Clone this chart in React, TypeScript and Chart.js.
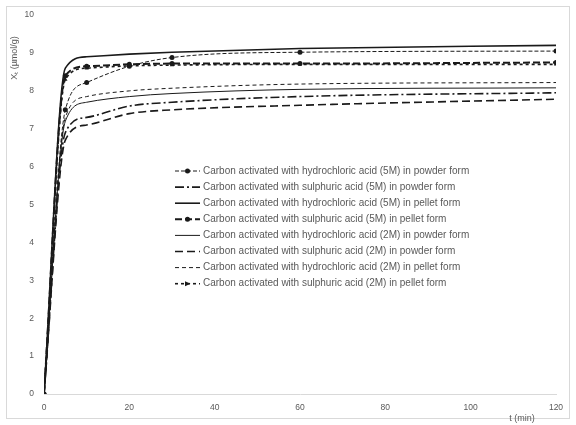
import React, { useEffect, useRef } from "react";
import { Chart, registerables } from "chart.js";

Chart.register(...registerables);

const times = [0, 5, 10, 20, 30, 60, 120];
const labels = [
  "Carbon activated with hydrochloric acid (5M) in powder form",
  "Carbon activated with sulphuric acid (5M) in powder form",
  "Carbon activated with hydrochloric acid (5M) in pellet form",
  "Carbon activated with sulphuric acid (5M) in pellet form",
  "Carbon activated with hydrochloric acid (2M) in powder form",
  "Carbon activated with sulphuric acid (2M) in powder form",
  "Carbon activated with hydrochloric acid (2M) in pellet form",
  "Carbon activated with sulphuric acid (2M) in pellet form",
];
const hcl5Powder = [0, 7.5, 8.22, 8.65, 8.88, 9.02, 9.05];
const h2so45Powder = [0, 6.9, 7.3, 7.6, 7.7, 7.85, 7.95];
const hcl5Pellet = [0, 8.6, 8.9, 8.97, 9.02, 9.12, 9.2];
const h2so45Pellet = [0, 8.4, 8.65, 8.7, 8.72, 8.72, 8.75];
const hcl2Powder = [0, 7.2, 7.7, 7.85, 7.93, 8.04, 8.08];
const h2so42Powder = [0, 6.7, 7.1, 7.4, 7.5, 7.62, 7.78];
const hcl2Pellet = [0, 7.3, 7.85, 8.0, 8.07, 8.18, 8.22];
const h2so42Pellet = [0, 8.3, 8.6, 8.66, 8.68, 8.7, 8.7];
const xTicks = [0, 20, 40, 60, 80, 100, 120];
const yTicks = [0, 1, 2, 3, 4, 5, 6, 7, 8, 9, 10];

const seriesValues = [
  hcl5Powder,
  h2so45Powder,
  hcl5Pellet,
  h2so45Pellet,
  hcl2Powder,
  h2so42Powder,
  hcl2Pellet,
  h2so42Pellet,
];

const styles = [
  { dash: [4, 2], width: 1, point: "circle", r: 2.5 },
  { dash: [9, 3, 2, 3], width: 1.6, point: "circle", r: 0 },
  { dash: [], width: 1.6, point: "circle", r: 0 },
  { dash: [7, 3], width: 2, point: "circle", r: 2.5 },
  { dash: [], width: 1, point: "circle", r: 0 },
  { dash: [8, 4], width: 1.6, point: "circle", r: 0 },
  { dash: [4, 3], width: 1, point: "circle", r: 0 },
  { dash: [3, 3], width: 1.6, point: "triangle", r: 2.5 },
];

const FONT = "'Liberation Sans', Arial, sans-serif";
const GRAY = "#595959";
const LINE = "#1a1a1a";

const overlayPlugin = {
  id: "overlay",
  afterDraw(chart: any) {
    const ctx = chart.ctx;
    ctx.save();
    // outer frame
    ctx.strokeStyle = "#d9d9d9";
    ctx.lineWidth = 1;
    ctx.setLineDash([]);
    ctx.strokeRect(6.5, 6.5, 563, 412);

    // legend
    const x0 = 175;
    const x1 = 200;
    const tx = 203;
    const y0 = 171;
    const dy = 16.1;
    ctx.font = `10px ${FONT}`;
    ctx.textBaseline = "middle";
    ctx.textAlign = "left";
    chart.data.datasets.forEach((ds: any, i: number) => {
      const y = y0 + dy * i;
      ctx.strokeStyle = LINE;
      ctx.lineWidth = ds.borderWidth;
      ctx.setLineDash(ds.borderDash || []);
      ctx.beginPath();
      ctx.moveTo(x0, y);
      ctx.lineTo(x1, y);
      ctx.stroke();
      ctx.setLineDash([]);
      if (ds.pointRadius > 0) {
        ctx.fillStyle = LINE;
        const cx = (x0 + x1) / 2;
        if (ds.pointStyle === "triangle") {
          ctx.beginPath();
          ctx.moveTo(cx - 2.5, y - 2.5);
          ctx.lineTo(cx + 3, y);
          ctx.lineTo(cx - 2.5, y + 2.5);
          ctx.closePath();
          ctx.fill();
        } else {
          ctx.beginPath();
          ctx.arc(cx, y, 2.5, 0, Math.PI * 2);
          ctx.fill();
        }
      }
      ctx.fillStyle = GRAY;
      ctx.fillText(ds.label, tx, y);
    });

    // axis titles
    ctx.fillStyle = GRAY;
    ctx.font = `9px ${FONT}`;
    ctx.textAlign = "center";
    ctx.fillText("t (min)", 522, 419);
    ctx.translate(15, 58);
    ctx.rotate(-Math.PI / 2);
    ctx.fillText("Xₜ (µmol/g)", 0, 0);
    ctx.restore();
  },
};

export default function App() {
  const ref = useRef<HTMLCanvasElement>(null);
  useEffect(() => {
    if (!ref.current) return;
    const chart = new Chart(ref.current, {
      type: "line",
      data: {
        datasets: seriesValues.map((vals, i) => ({
          label: labels[i],
          data: vals.map((v, j) => ({ x: times[j], y: v })),
          borderColor: LINE,
          backgroundColor: LINE,
          borderWidth: styles[i].width,
          borderDash: styles[i].dash,
          pointStyle: styles[i].point as any,
          pointRadius: styles[i].r,
          pointBorderWidth: 0,
          cubicInterpolationMode: "monotone" as const,
          fill: false,
        })),
      },
      options: {
        animation: false,
        responsive: false,
        layout: { padding: { left: 0, right: 20, top: 15, bottom: 0 } },
        plugins: { legend: { display: false }, tooltip: { enabled: false } },
        scales: {
          x: {
            type: "linear",
            min: 0,
            max: 120,
            afterBuildTicks: (s: any) => {
              s.ticks = xTicks.map((v) => ({ value: v }));
            },
            afterFit: (s: any) => {
              s.height = 31;
            },
            grid: { display: false, drawTicks: false },
            border: { display: true, color: "#d9d9d9", width: 1 },
            ticks: { color: GRAY, font: { size: 8.5, family: FONT }, padding: 9 },
          },
          y: {
            min: 0,
            max: 10,
            afterBuildTicks: (s: any) => {
              s.ticks = yTicks.map((v) => ({ value: v }));
            },
            afterFit: (s: any) => {
              s.width = 44;
            },
            grid: { display: false, drawTicks: false },
            border: { display: false },
            ticks: { color: GRAY, font: { size: 8.5, family: FONT }, padding: 10 },
          },
        },
      },
      plugins: [overlayPlugin],
    });
    return () => chart.destroy();
  }, []);
  return (
    <div style={{ position: "fixed", left: 0, top: 0, width: 576, height: 425, background: "#fff" }}>
      <canvas ref={ref} width={576} height={425} />
    </div>
  );
}
